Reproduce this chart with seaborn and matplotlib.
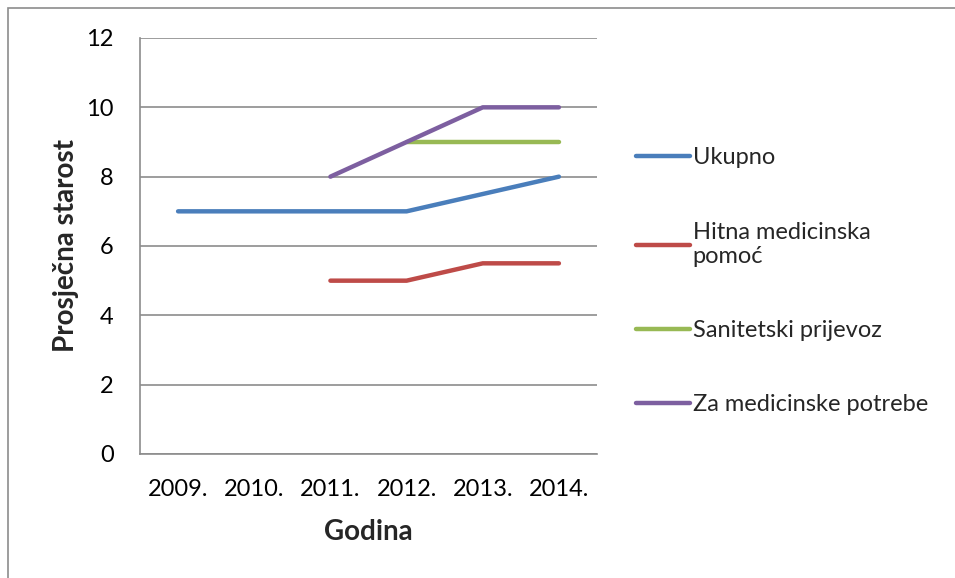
import numpy as np
import pandas as pd
import matplotlib
matplotlib.use("Agg")
import matplotlib.pyplot as plt
import seaborn as sns
from matplotlib.patches import Rectangle

# podaci
godine = ["2009.", "2010.", "2011.", "2012.", "2013.", "2014."]
ukupno = [7, 7, 7, 7, 7.5, 8]
hitna = [np.nan, np.nan, 5, 5, 5.5, 5.5]
sanitetski = [np.nan, np.nan, np.nan, 9, 9, 9]
za_med = [np.nan, np.nan, 8, 9, 10, 10]

serije = ["Ukupno", "Hitna medicinska\npomoć", "Sanitetski prijevoz", "Za medicinske potrebe"]
boje = ["#4a7ebb", "#be4b48", "#98b954", "#7d5fa0"]

df = pd.DataFrame({
    "x": list(range(len(godine))) * 4,
    "vrijednost": ukupno + hitna + sanitetski + za_med,
    "serija": [s for s in serije for _ in godine],
}).dropna()

sns.set_style("white")
plt.rcParams["font.family"] = ["Lato", "DejaVu Sans"]

fig = plt.figure(figsize=(9.55, 5.78), dpi=100)
ax = fig.add_axes([140 / 955, 1 - 454 / 578, 457 / 955, 416 / 578])

sns.lineplot(data=df, x="x", y="vrijednost", hue="serija", hue_order=serije,
             palette=boje, linewidth=3.2, ax=ax, legend=False,
             solid_capstyle="round", solid_joinstyle="round")

ax.set_xlim(-0.5, 5.5)
ax.set_ylim(0, 12)
ax.set_xticks(range(len(godine)))
ax.set_xticklabels(godine)
ax.set_yticks(range(0, 13, 2))
ax.tick_params(axis="both", length=0, labelsize=17, colors="black")
ax.tick_params(axis="x", pad=18)
ax.tick_params(axis="y", pad=19)
ax.yaxis.grid(True, color="#8c8c8c", linewidth=1.2)
ax.set_axisbelow(True)
for s in ["top", "right"]:
    ax.spines[s].set_visible(False)
for s in ["left", "bottom"]:
    ax.spines[s].set_color("#8c8c8c")
    ax.spines[s].set_linewidth(1.2)

ax.set_xlabel("Godina", fontsize=20, fontweight="bold", labelpad=14)
ax.set_ylabel("Prosječna starost", fontsize=20, fontweight="bold", labelpad=5)

handles = [plt.Line2D([], [], color=c, linewidth=3.2, solid_capstyle="round") for c in boje]
leg = ax.legend(handles, serije, loc="center left", bbox_to_anchor=(1.065, 0.415),
                frameon=False, fontsize=17, handlelength=2.3, handletextpad=0.1,
                labelspacing=2.25, borderaxespad=0)

# okvir grafikona
fig.patches.append(Rectangle((8 / 955, -0.1), 1.2, 1 - 8 / 578 + 0.1,
                             transform=fig.transFigure, fill=False,
                             edgecolor="#8c8c8c", linewidth=1.2))

fig.savefig("out.png", dpi=100)
